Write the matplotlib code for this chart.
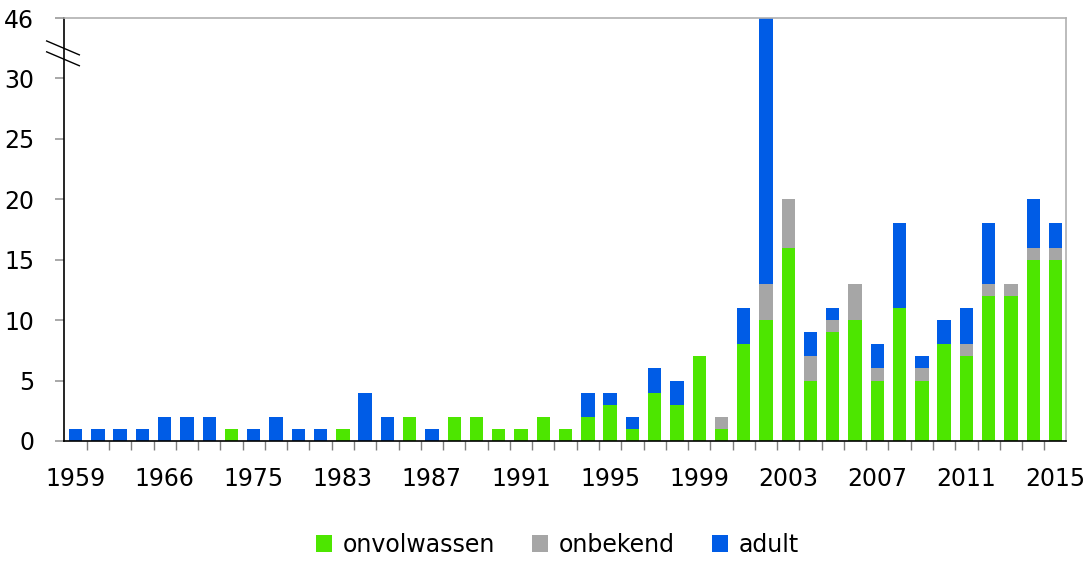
import numpy as np
import matplotlib.pyplot as plt
import matplotlib.transforms as mtransforms
from matplotlib.lines import Line2D

plt.rcParams['font.family'] = ['DejaVu Sans']

years = [1959, 1961, 1963, 1964, 1966, 1968, 1970, 1973, 1975, 1977, 1979, 1981] + list(range(1983, 2016))
onvolwassen = [0, 0, 0, 0, 0, 0, 0, 1, 0, 0, 0, 0,
               1, 0, 0, 2, 0, 2, 2, 1, 1, 2, 1, 2, 3, 1, 4, 3, 7, 1, 8,
               10, 16, 5, 9, 10, 5, 11, 5, 8, 7, 12, 12, 15, 15]
onbekend = [0, 0, 0, 0, 0, 0, 0, 0, 0, 0, 0, 0,
            0, 0, 0, 0, 0, 0, 0, 0, 0, 0, 0, 0, 0, 0, 0, 0, 0, 1, 0,
            3, 4, 2, 1, 3, 1, 0, 1, 0, 1, 1, 1, 1, 1]
adult = [1, 1, 1, 1, 2, 2, 2, 0, 1, 2, 1, 1,
         0, 4, 2, 0, 1, 0, 0, 0, 0, 0, 0, 2, 1, 1, 2, 2, 0, 0, 3,
         33, 0, 2, 1, 0, 2, 7, 1, 2, 3, 5, 0, 4, 2]

green = '#4de600'
grey = '#a6a6a6'
blue = '#005ce6'

fig = plt.figure(figsize=(10.89, 5.61), dpi=100)
ax = fig.add_axes([64 / 1089, 1 - 441 / 561, 1002 / 1089, 423 / 561])

x = np.arange(len(years))
on = np.array(onvolwassen)
ob = np.array(onbekend)
ad = np.array(adult)
w = 0.6
ax.bar(x, on, w, color=green, label='onvolwassen')
ax.bar(x, ob, w, bottom=on, color=grey, label='onbekend')
ax.bar(x, ad, w, bottom=on + ob, color=blue, label='adult')

# axis is broken: top tick (35) is labelled 46
ax.set_ylim(0, 35)
ax.set_xlim(-0.52, len(years) - 0.53)
ax.set_yticks([0, 5, 10, 15, 20, 25, 30, 35])
ax.set_yticklabels(['0', '5', '10', '15', '20', '25', '30', '46'])

ax.set_xticks(x[::4])
ax.set_xticklabels([str(y) for y in years[::4]])
ax.set_xticks(x[:-1] + 0.5, minor=True)

ax.tick_params(axis='x', which='major', length=0, pad=18.5, labelsize=17)
ax.tick_params(axis='x', which='minor', length=6.5, color='#7f7f7f', width=1)
ax.tick_params(axis='y', length=6.5, color='#9a9a9a', width=1.2, pad=15, labelsize=17)

for s in ['top', 'right']:
    ax.spines[s].set_color('#b0b0b0')
    ax.spines[s].set_linewidth(1.2)
for s in ['left', 'bottom']:
    ax.spines[s].set_color('black')
    ax.spines[s].set_linewidth(1.2)

# break marks on the y axis
trans = mtransforms.blended_transform_factory(ax.transAxes, ax.transData)
for y0 in [33.1, 32.2]:
    ax.add_line(Line2D([-0.0173, 0.0153], [y0, y0 - 1.15], transform=trans,
                       color='black', lw=1, clip_on=False))

ax.legend(loc='center', bbox_to_anchor=(0.4925, -0.245), ncol=3, frameon=False,
          fontsize=17, handlelength=0.7, handleheight=0.7, handletextpad=0.45,
          columnspacing=1.55)

fig.savefig('out.png', dpi=100)
